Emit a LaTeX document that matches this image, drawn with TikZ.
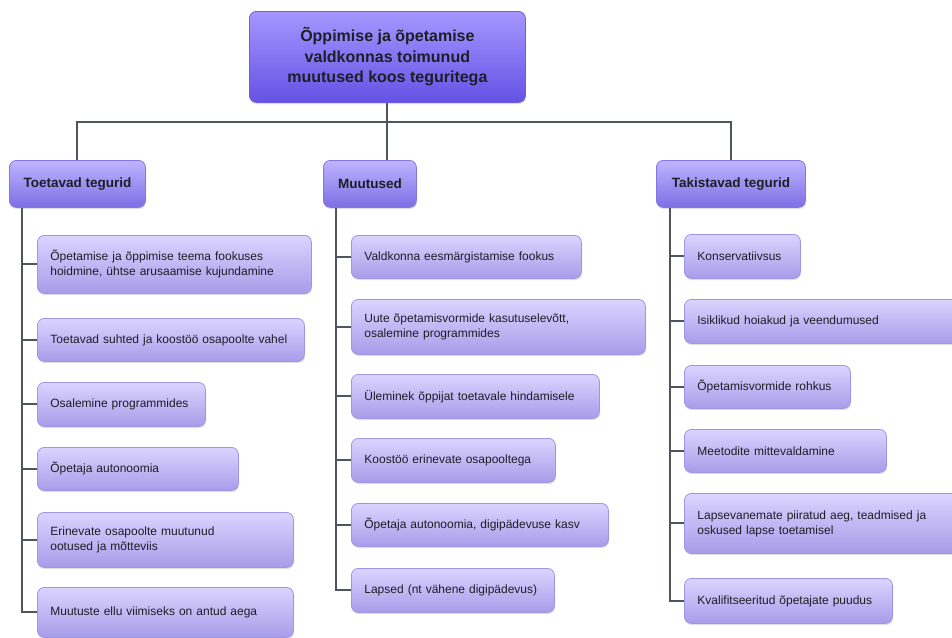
\documentclass[tikz,border=0pt]{standalone}
\usepackage{fontspec}
\setmainfont{Liberation Sans}
\usetikzlibrary{shadows}

\definecolor{leaftop}{RGB}{219,212,255}
\definecolor{leafbot}{RGB}{168,156,233}
\definecolor{leafline}{RGB}{160,148,230}
\definecolor{headtop}{RGB}{190,180,255}
\definecolor{headbot}{RGB}{126,110,228}
\definecolor{headline}{RGB}{132,116,230}
\definecolor{titletop}{RGB}{166,150,255}
\definecolor{titlebot}{RGB}{100,82,228}
\definecolor{titleline}{RGB}{110,92,228}
\definecolor{linkgray}{RGB}{80,84,92}
\definecolor{ink}{RGB}{30,30,38}

\tikzset{
  box/.style={rounded corners=7pt, line width=0.8pt, anchor=north west, inner ysep=2pt, text=ink,
    drop shadow={opacity=0.25, shadow xshift=0.6pt, shadow yshift=-1.6pt}},
  leaf/.style 2 args={box, draw=leafline, top color=leaftop, bottom color=leafbot,
    text width=#1, minimum height=#2, inner xsep=13pt, align=left, font=\fontsize{12}{15}\selectfont},
  head/.style 2 args={box, draw=headline, top color=headtop, bottom color=headbot,
    minimum width=#1, minimum height=#2, font=\fontsize{13.5}{16}\selectfont\bfseries},
  link/.style={draw=linkgray, line width=2pt}
}

\begin{document}
\begin{tikzpicture}[x=1pt,y=-1pt]
    \useasboundingbox (0,0) rectangle (952,637);

    \node[box, draw=titleline, top color=titletop, bottom color=titlebot, minimum width=276pt, minimum height=91pt,
          align=center, font=\fontsize{16}{20.5}\selectfont\bfseries] (top) at (249,11)
          {Õppimise ja õpetamise\\valdkonnas toimunud\\muutused koos teguritega};

    \node[head={136pt}{47pt}] (toetavad) at (9,160) {Toetavad tegurid};
    \node[head={93pt}{47pt}] (muutused) at (323,160) {Muutused};
    \node[head={149pt}{47pt}] (takistavad) at (656,160) {Takistavad tegurid};

    \node[leaf={248pt}{58pt}] (t1) at (37,235) {Õpetamise ja õppimise teema fookuses\\hoidmine, ühtse arusaamise kujundamine};
    \node[leaf={241pt}{43pt}] (t2) at (37,318) {Toetavad suhted ja koostöö osapoolte vahel};
    \node[leaf={142pt}{44pt}] (t3) at (37,382) {Osalemine programmides};
    \node[leaf={175pt}{43pt}] (t4) at (37,447) {Õpetaja autonoomia};
    \node[leaf={230pt}{55pt}] (t5) at (37,512) {Erinevate osapoolte muutunud\\ootused ja mõtteviis};
    \node[leaf={230pt}{50pt}] (t6) at (37,587) {Muutuste ellu viimiseks on antud aega};

    \node[leaf={204pt}{43pt}] (m1) at (351,235) {Valdkonna eesmärgistamise fookus};
    \node[leaf={268pt}{55pt}] (m2) at (351,299) {Uute õpetamisvormide kasutuselevõtt,\\osalemine programmides};
    \node[leaf={222pt}{44pt}] (m3) at (351,374) {Üleminek õppijat toetavale hindamisele};
    \node[leaf={178pt}{44pt}] (m4) at (351,438) {Koostöö erinevate osapooltega};
    \node[leaf={231pt}{43pt}] (m5) at (351,503) {Õpetaja autonoomia, digipädevuse kasv};
    \node[leaf={177pt}{44pt}] (m6) at (351,568) {Lapsed (nt vähene digipädevus)};

    \node[leaf={90pt}{44pt}] (k1) at (684,234) {Konservatiivsus};
    \node[leaf={264pt}{44pt}] (k2) at (684,299) {Isiklikud hoiakud ja veendumused};
    \node[leaf={140pt}{43pt}] (k3) at (684,365) {Õpetamisvormide rohkus};
    \node[leaf={176pt}{43pt}] (k4) at (684,429) {Meetodite mittevaldamine};
    \node[leaf={264pt}{60pt}] (k5) at (684,493) {Lapsevanemate piiratud aeg, teadmised ja\\oskused lapse toetamisel};
    \node[leaf={182pt}{45pt}] (k6) at (684,578) {Kvalifitseeritud õpetajate puudus};

    \coordinate (bar) at (387,122);
    \draw[link] (top.south) -- (top.south |- muutused.north);
    \draw[link] (toetavad.north) |- (bar) -| (takistavad.north);

    \foreach \i in {1,...,6} {
        \draw[link] ([xshift=13pt]toetavad.south west) |- (t\i.west);
        \draw[link] ([xshift=13pt]muutused.south west) |- (m\i.west);
        \draw[link] ([xshift=14pt]takistavad.south west) |- (k\i.west);
    }
\end{tikzpicture}
\end{document}
